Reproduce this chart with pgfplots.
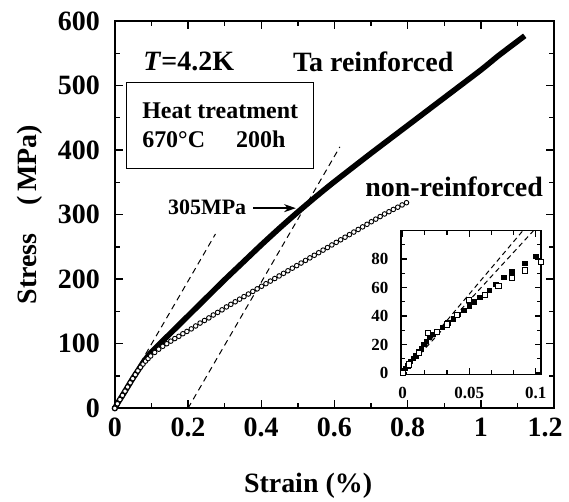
\documentclass[border=0pt]{standalone}
\usepackage{fontspec}
\setmainfont{Liberation Serif}
\usepackage{pgfplots}
\pgfplotsset{compat=1.18}
\usetikzlibrary{arrows.meta}

% stress-strain data
\pgfplotstableread{
x y
0 0
0.01 10
0.02 19
0.035 33
0.05 47
0.065 60
0.08 73
0.1 87
0.15 115
0.2 143
0.25 171
0.3 199
0.35 226
0.4 253
0.45 279
0.5 304
0.55 328
0.6 351
0.7 395
0.8 438
0.9 481
1.0 524
1.05 547
1.12 577
}\tareinf

\pgfplotstableread{
x y
0 0
0.007 7
0.014 13.5
0.021 20
0.028 26.5
0.035 33
0.042 39.5
0.049 46
0.056 52
0.063 58
0.07 63.5
0.077 68.5
0.084 73
0.091 77
0.098 81
0.109 86.5
0.12 91.5
0.131 96
0.142 100
0.153 104
0.164 108
0.175 111.5
0.186 115.5
0.197 119
0.209 123
0.221 127.5
0.233 132
0.245 136
0.257 140
0.269 144.5
0.281 148.5
0.293 152.5
0.305 157
0.317 161
0.329 165
0.341 169
0.353 173
0.365 177
0.377 181
0.389 185
0.401 189
0.413 193
0.425 197
0.437 201
0.449 205
0.461 209
0.473 213
0.485 217
0.497 221
0.509 225
0.521 229
0.533 233
0.545 237
0.557 241
0.569 245
0.581 249
0.593 253
0.605 257
0.617 261
0.629 265
0.641 269
0.653 273
0.665 277
0.677 281
0.689 285
0.701 289
0.713 293
0.725 297
0.737 301
0.749 304.5
0.761 308
0.773 311.5
0.785 315
0.797 318.5
}\nonreinf

\pgfplotstableread{
x y
0 0
0.002 3
0.004 5
0.006 8
0.008 10
0.010 12
0.012 15
0.014 17
0.016 20
0.018 22
0.020 25
0.023 27
0.026 29
0.030 32
0.034 35
0.038 38
0.042 41
0.046 44
0.050 47
0.054 50
0.058 53
0.065 58
0.070 62
0.076 67
0.082 71
0.092 77
0.100 82
}\insetta

\pgfplotstableread{
x y
0 0
0.005 6
0.012 14
0.019 28
0.026 29
0.033 34
0.041 41
0.050 51
0.062 55
0.072 61
0.082 67
0.092 72
0.104 78
}\insetnon

\begin{document}
\begin{tikzpicture}
\useasboundingbox (-57.5pt,-46.5pt) rectangle (227.5pt,204.5pt);
\begin{axis}[
  scale only axis,
  width=220pt, height=194pt,
  xmin=0, xmax=1.2, ymin=0, ymax=600,
  xtick={0,0.2,0.4,0.6,0.8,1,1.2},
  xticklabels={0,0.2,0.4,0.6,0.8,1,{\hspace*{-9pt}1.2}},
  ytick={0,100,200,300,400,500,600},
  minor x tick num=1, minor y tick num=1,
  tick align=inside,
  major tick length=4pt, minor tick length=2.5pt,
  axis line style={line width=0.9pt},
  every tick/.style={black, line width=0.7pt},
  tick label style={font=\fontsize{14}{14}\selectfont\bfseries},
  /pgf/number format/assume math mode=true,
  yticklabel style={xshift=-4pt},
  xticklabel style={yshift=-1.5pt},
  xlabel={Strain (\%)},
  ylabel={Stress\quad(\,MPa)},
  every axis x label/.style={at={(axis description cs:0.44,-0.2)}, anchor=center,
    font=\fontsize{14}{14}\selectfont\bfseries},
  every axis y label/.style={at={(axis description cs:-0.193,0.5)}, rotate=90, anchor=center,
    font=\fontsize{14}{14}\selectfont\bfseries},
  clip=false,
]
% offset lines
\addplot[black, line width=0.5pt, dash pattern=on 3pt off 2.2pt] coordinates {(0.07,70) (0.275,270)};
\addplot[black, line width=0.5pt, dash pattern=on 3pt off 2.2pt] coordinates {(0.2,0) (0.615,405)};
% non-reinforced: open circles
\addplot[only marks, mark=*, mark size=1.15pt, black,
  mark options={fill=white, line width=0.45pt}] table {\nonreinf};
% Ta reinforced: dense filled marks
\addplot[black, line width=2.8pt, smooth, tension=0.4] table {\tareinf};
\fill[black] (axis cs:0,0) circle (1.6pt);

\node[font=\fontsize{14}{14}\selectfont\bfseries] at (axis cs:0.202,537) {\textit{T}=4.2K};
\node[font=\fontsize{14}{14}\selectfont\bfseries] at (axis cs:0.706,537) {Ta reinforced};
\node[font=\fontsize{14}{14}\selectfont\bfseries] at (axis cs:0.927,343) {non-reinforced};
\node[draw, line width=0.6pt, align=left, minimum width=93.5pt, minimum height=43pt,
  inner xsep=5pt, font=\fontsize{12}{14.5}\selectfont\bfseries]
  at (axis cs:0.288,438) {Heat treatment\\670°C\hspace{1.3em}200h};
\node[anchor=east, font=\fontsize{11}{11}\selectfont\bfseries, inner sep=0pt] at (axis cs:0.36,311) {305MPa};
\draw[-{Stealth[length=6pt,width=4pt]}, line width=0.7pt] (axis cs:0.378,310) -- (axis cs:0.495,310);
\end{axis}

\begin{axis}[
  at={(143.5pt,17pt)}, anchor=south west,
  scale only axis,
  width=70pt, height=72pt,
  xmin=-0.001, xmax=0.104, ymin=-1, ymax=100,
  xtick={0,0.05,0.1}, xticklabels={0,0.05,0.1},
  minor xtick={0.0167,0.0333,0.0667,0.0833},
  ytick={0,20,40,60,80}, minor ytick={10,30,50,70,90},
  tick align=inside,
  major tick length=3pt, minor tick length=2pt,
  axis line style={line width=0.8pt},
  every tick/.style={black, line width=0.6pt},
  tick label style={font=\fontsize{8.5}{8.5}\selectfont\bfseries},
  /pgf/number format/assume math mode=true,
  xticklabel style={yshift=-3pt},
  yticklabel style={xshift=-3pt},
  axis background/.style={fill=white},
  clip=false,
]
\addplot[black, line width=0.5pt, dash pattern=on 2.5pt off 1.8pt] coordinates {(0,0) (0.0904,100)};
\addplot[black, line width=0.5pt, dash pattern=on 2.5pt off 1.8pt] coordinates {(0,0) (0.0984,100)};
\addplot[only marks, mark=square*, mark size=1.1pt, black] table {\insetta};
\addplot[only marks, mark=square*, mark size=1.3pt, black,
  mark options={fill=white, line width=0.45pt}] table {\insetnon};
\end{axis}
\end{tikzpicture}
\end{document}
